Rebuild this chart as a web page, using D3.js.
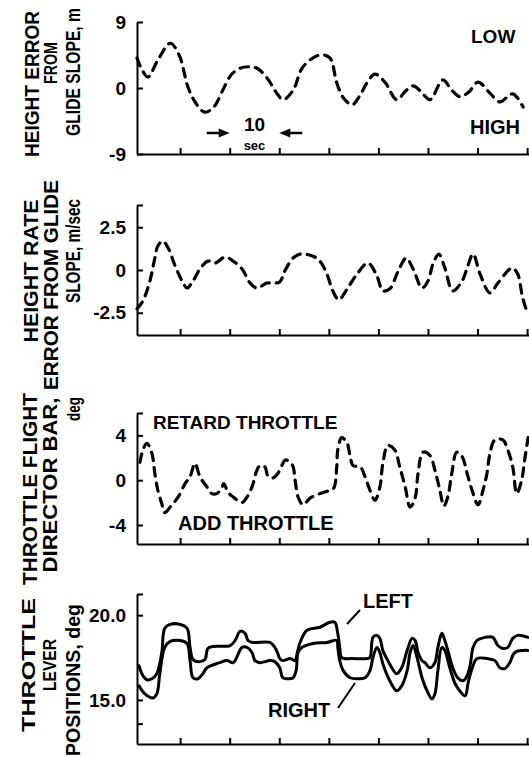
<!DOCTYPE html>
<html>
<head>
<meta charset="utf-8">
<script src="https://cdn.jsdelivr.net/npm/d3@7"></script>
<style>
  html, body { margin: 0; padding: 0; background: #fff; }
  svg { display: block; }
  text { font-family: "Liberation Sans", Arial, Helvetica, sans-serif; font-weight: bold; fill: #000; }
</style>
</head>
<body>
<svg id="chart" width="529" height="757"></svg>
<script>
// ---- time axis (seconds) ----
const tickSeconds = [10, 20, 30, 40, 50, 60, 70, 80];

// ---- height error from glide slope, m ----
const heightErrTicks = [9, 0, -9];
const heightErrTickLabels = ["9", "0", "-9"];
const heightErrT = [1.3, 2.3, 3.5, 5.5, 8.0, 9.8, 11.6, 13.3, 15.0, 16.8, 18.6, 20.3, 22.1, 23.8, 25.5, 27.5, 29.5, 30.8, 32.8, 34.8, 38.2, 40.2, 41.6, 43.0, 44.7, 46.2, 47.7, 49.3, 51.3, 53.7, 55.5, 57.0, 58.6, 60.4, 63.0, 64.8, 66.5, 68.3, 70.1, 72.5, 74.5, 77.1, 79.2];
const heightErrV = [4.1, 2.5, 1.5, 3.8, 6.1, 4.5, 0.1, -2.2, -3.3, -2.6, -0.3, 1.8, 2.7, 2.9, 2.7, 1.4, -0.7, -1.6, -0.3, 2.9, 4.5, 4.1, 0.7, -1.4, -2.3, -1.1, 0.7, 1.9, 0.8, -1.6, -0.4, 0.3, -0.5, -1.6, 1.1, -0.3, -1.2, -0.5, 0.8, -0.7, -1.9, -0.8, -2.6];

// ---- height rate error from glide slope, m/sec ----
const rateTicks = [3.8, 2.5, 0, -2.5];
const rateTickLabels = ["", "2.5", "0", "-2.5"];
const rateT = [1.3, 2.5, 3.9, 4.9, 5.5, 6.5, 7.6, 9.0, 10.4, 11.4, 12.6, 14.0, 15.6, 17.1, 19.1, 20.7, 22.5, 24.1, 25.5, 27.5, 28.7, 30.1, 31.1, 32.8, 34.2, 36.8, 38.2, 39.6, 40.8, 42.0, 43.7, 45.7, 47.9, 49.7, 50.9, 52.3, 54.0, 55.6, 57.0, 58.8, 60.0, 61.0, 62.2, 63.4, 65.0, 66.9, 67.9, 69.1, 70.5, 72.5, 74.1, 76.5, 77.1, 78.1, 79.1, 79.9];
const rateV = [-2.27, -1.8, -0.64, 0.7, 1.4, 1.69, 1.28, 0.23, -0.64, -1.05, -0.64, 0.06, 0.52, 0.41, 0.76, 0.52, 0.06, -0.76, -1.05, -0.76, -0.76, -0.7, -0.06, 0.7, 0.93, 0.81, 0.52, -0.23, -1.22, -1.74, -1.1, -0.23, 0.41, -0.35, -1.22, -1.1, -0.06, 0.7, 0.06, -1.05, -0.64, 0.35, 0.93, 0.12, -1.22, -0.64, 0.12, 0.93, -0.23, -1.34, -0.76, 0.06, 0.12, -0.23, -1.63, -2.38];

// ---- throttle flight director bar, deg ----
const directorTicks = [6.0, 4, 0, -4];
const directorTickLabels = ["", "4", "0", "-4"];
const directorT = [1.9, 2.5, 3.3, 4.3, 4.9, 5.5, 6.3, 6.9, 8.0, 9.6, 11.0, 12.0, 13.0, 14.0, 15.4, 16.4, 17.4, 18.4, 18.8, 19.7, 20.7, 22.5, 23.5, 24.5, 25.5, 26.1, 27.1, 27.7, 28.7, 29.7, 30.5, 31.2, 32.2, 32.8, 33.2, 33.8, 34.8, 36.2, 38.2, 40.2, 41.0, 41.6, 41.8, 42.6, 43.7, 44.3, 44.9, 46.3, 47.3, 48.3, 49.3, 50.3, 50.9, 51.9, 53.3, 54.3, 55.4, 56.4, 57.4, 58.0, 59.0, 60.4, 61.4, 62.4, 63.2, 64.0, 64.8, 65.8, 66.9, 67.9, 68.9, 70.1, 71.1, 71.9, 72.5, 73.5, 75.1, 76.1, 77.1, 77.9, 78.9, 79.5, 80.2];
const directorV = [1.6, 2.7, 3.3, 2.4, 0.6, -0.9, -2.1, -2.9, -2.4, -1.5, -0.3, 0.3, 1.5, 0.3, -0.6, -1.2, -1.2, -0.7, -0.3, -1.1, -1.5, -2.0, -1.5, -0.6, 0.9, 1.3, 1.2, 0.4, 0.2, 0.6, 1.3, 1.8, 1.6, 1.2, 0.0, -1.5, -2.2, -1.6, -1.2, -0.9, -0.7, 1.2, 2.7, 3.8, 3.3, 2.1, 1.3, 1.2, 0.3, -0.9, -1.8, -0.6, 1.5, 3.1, 2.7, 1.2, -0.6, -2.4, -1.6, 0.6, 2.5, 2.2, 0.9, -0.9, -2.3, -1.5, 0.6, 2.5, 2.1, 0.6, -0.9, -2.2, -0.9, 0.6, 2.4, 3.6, 3.6, 2.7, 1.2, -1.2, 0.0, 1.8, 3.8];

// ---- throttle lever positions, deg ----
const leverTicks = [21.25, 20, 15, 13.6];
const leverTickLabels = ["", "20.0", "15.0", ""];
const leftT = [1.7, 2.5, 3.3, 4.3, 5.3, 6.3, 6.9, 8.0, 10.0, 11.4, 12.0, 12.6, 14.0, 15.0, 15.6, 16.6, 20.1, 21.1, 22.1, 23.1, 23.7, 24.7, 28.1, 29.1, 29.7, 30.1, 30.7, 32.2, 33.2, 33.6, 34.2, 35.6, 38.2, 40.2, 41.2, 41.8, 42.2, 42.6, 44.7, 47.7, 48.3, 48.9, 49.7, 50.3, 50.9, 51.7, 52.7, 53.7, 54.7, 55.8, 56.8, 57.4, 58.0, 58.8, 59.4, 60.4, 61.4, 62.0, 62.8, 63.4, 64.0, 65.0, 66.0, 67.1, 67.9, 68.5, 69.1, 69.9, 71.5, 73.1, 74.1, 75.1, 76.1, 77.1, 78.1, 80.2];
const leftV = [17.02, 16.43, 16.19, 16.25, 16.55, 17.80, 19.23, 19.46, 19.46, 19.23, 18.10, 17.38, 17.26, 17.38, 18.04, 18.15, 18.21, 18.51, 19.05, 18.93, 18.51, 18.39, 18.39, 18.10, 17.74, 17.44, 17.32, 17.44, 17.32, 17.74, 18.39, 19.11, 19.29, 19.58, 19.58, 18.93, 18.10, 17.50, 17.44, 17.44, 17.50, 18.69, 18.81, 18.63, 17.92, 17.44, 16.90, 16.55, 16.90, 17.92, 18.63, 18.51, 17.80, 17.32, 17.20, 16.90, 17.20, 18.10, 18.93, 18.51, 17.92, 16.90, 16.31, 16.13, 16.43, 17.02, 18.10, 18.51, 18.69, 18.69, 18.21, 18.04, 18.10, 18.63, 18.81, 18.69];
const rightT = [1.7, 2.9, 4.5, 5.3, 5.9, 6.9, 8.0, 10.0, 11.4, 12.0, 12.6, 13.6, 14.6, 15.4, 18.0, 19.5, 20.7, 22.5, 23.5, 24.5, 25.1, 26.1, 28.1, 29.1, 30.1, 30.7, 31.8, 32.8, 33.4, 33.8, 34.6, 36.8, 39.6, 41.6, 41.8, 42.2, 42.9, 44.3, 45.7, 47.3, 48.3, 48.9, 49.7, 50.3, 50.9, 52.3, 53.7, 54.7, 55.8, 56.4, 57.0, 57.8, 58.8, 59.8, 60.8, 61.4, 62.0, 62.8, 63.4, 64.4, 65.4, 66.4, 67.5, 68.1, 68.9, 69.9, 71.9, 73.5, 74.5, 75.5, 76.5, 77.5, 79.2, 80.2];
const rightV = [15.83, 15.36, 15.12, 15.36, 16.55, 18.10, 18.45, 18.51, 18.33, 17.32, 16.31, 16.25, 16.55, 16.90, 17.20, 17.32, 17.20, 18.10, 18.10, 17.80, 17.32, 17.20, 17.32, 17.26, 16.90, 16.31, 16.25, 16.31, 16.73, 17.80, 18.10, 18.33, 18.39, 18.51, 18.10, 17.32, 16.73, 16.31, 16.25, 16.31, 16.73, 17.50, 18.10, 17.80, 17.14, 16.13, 15.54, 15.83, 16.73, 17.80, 18.21, 17.50, 16.31, 15.54, 15.06, 15.36, 16.73, 18.10, 17.92, 16.90, 16.01, 15.54, 15.24, 16.01, 16.85, 17.44, 17.44, 17.32, 16.90, 16.85, 17.20, 17.80, 17.92, 17.92];

// ---- axis titles (rotated, read bottom to top) ----
const heightErrTitle = ["HEIGHT ERROR", "FROM", "GLIDE SLOPE, m"];
const rateTitle = ["HEIGHT RATE", "ERROR FROM GLIDE", "SLOPE, m/sec"];
const directorTitle = ["THROTTLE FLIGHT", "DIRECTOR BAR,", "deg"];
const leverTitle = ["THROTTLE", "LEVER", "POSITIONS, deg"];

// ---------------------------------------------------------------
const svg = d3.select("#chart");
const FONT = '"Liberation Sans", Arial, Helvetica, sans-serif';

const x = d3.scaleLinear().domain([1.3, 80.3]).range([137, 528.6]);

// title layout rows: [baseline x, centre y, font size, run length along the text]
const panels = [
  {
    y: d3.scaleLinear().domain([-9, 9]).range([154, 22]),
    ticks: heightErrTicks, tickLabels: heightErrTickLabels,
    series: [{ t: heightErrT, v: heightErrV, dashed: true }],
    title: heightErrTitle,
    titleLayout: [[39, 84, 20, 146], [57, 63, 19, 42], [80, 72, 20, 128]]
  },
  {
    y: d3.scaleLinear().domain([-3.8, 3.8]).range([335, 205]),
    ticks: rateTicks, tickLabels: rateTickLabels,
    series: [{ t: rateT, v: rateV, dashed: true }],
    title: rateTitle,
    titleLayout: [[38, 271, 20, 143], [58, 285, 20, 210], [80, 251, 21, 104]]
  },
  {
    y: d3.scaleLinear().domain([-5.7, 6.0]).range([544, 413]),
    ticks: directorTicks, tickLabels: directorTickLabels,
    series: [{ t: directorT, v: directorV, dashed: true }],
    title: directorTitle,
    titleLayout: [[37, 489, 20, 192], [57, 485, 20, 175], [80, 409, 19, 24]]
  },
  {
    y: d3.scaleLinear().domain([12.4, 21.25]).range([744, 594]),
    ticks: leverTicks, tickLabels: leverTickLabels,
    series: [{ t: leftT, v: leftV, dashed: false }, { t: rightT, v: rightV, dashed: false }],
    title: leverTitle,
    titleLayout: [[35, 665, 19, 134], [56, 665, 18, 52], [80, 680, 20, 152]]
  }
];

function styleAxis(sel) {
  sel.selectAll("path, line").attr("stroke", "#000").attr("stroke-width", 2);
  sel.selectAll("text")
    .attr("font-size", 19)
    .attr("font-family", FONT)
    .attr("font-weight", "bold")
    .attr("fill", "#000");
}

panels.forEach(p => {
  const g = svg.append("g");

  // left axis with inward ticks
  const ya = g.append("g")
    .attr("transform", `translate(${x.range()[0]},0)`)
    .call(d3.axisLeft(p.y)
      .tickValues(p.ticks)
      .tickFormat((d, i) => p.tickLabels[i])
      .tickSizeInner(-6).tickSizeOuter(0).tickPadding(11));
  styleAxis(ya);

  // time axis with upward ticks, unlabeled
  const xa = g.append("g")
    .attr("transform", `translate(0,${p.y.range()[0]})`)
    .call(d3.axisBottom(x)
      .tickValues(tickSeconds)
      .tickFormat("")
      .tickSizeInner(-6).tickSizeOuter(0));
  styleAxis(xa);

  // traces
  const line = d3.line()
    .x(d => x(d[0]))
    .y(d => p.y(d[1]))
    .curve(d3.curveCatmullRom.alpha(0.5));

  p.series.forEach(s => {
    g.append("path")
      .datum(d3.zip(s.t, s.v))
      .attr("d", line)
      .attr("fill", "none")
      .attr("stroke", "#000")
      .attr("stroke-width", s.dashed ? 3.2 : 3)
      .attr("stroke-linecap", "round")
      .attr("stroke-linejoin", "round")
      .attr("stroke-dasharray", s.dashed ? "8.5,7" : null);
  });

  // rotated axis title lines, stretched/condensed to their run length
  p.title.forEach((txt, i) => {
    const [bx, cy, fs, len] = p.titleLayout[i];
    const t = svg.append("text")
      .attr("text-anchor", "middle")
      .style("font-size", fs + "px")
      .text(txt);
    const w = t.node().getComputedTextLength() || len;
    t.attr("transform", `translate(${bx},${cy}) rotate(-90) scale(${len / w},1)`);
  });
});

// ---- annotations ----
function label(txt, px, py, fs, anchor) {
  svg.append("text")
    .attr("x", px).attr("y", py)
    .style("font-size", fs + "px")
    .attr("text-anchor", anchor || "start")
    .text(txt);
}

// panel 1
label("LOW", 471, 43, 19);
label("HIGH", 470, 134, 20);
label("10", x(25), 131, 19, "middle");
label("sec", x(25), 150, 13, "middle");

// 10-second span arrows pointing at the 20 s and 30 s ticks
const arrowY = 133;
function arrow(tipX, dir) {
  const tail = tipX - dir * 23;
  svg.append("line")
    .attr("x1", tail).attr("y1", arrowY)
    .attr("x2", tipX - dir * 8).attr("y2", arrowY)
    .attr("stroke", "#000").attr("stroke-width", 2.5);
  svg.append("path")
    .attr("d", `M${tipX},${arrowY} L${tipX - dir * 11},${arrowY - 4.5} L${tipX - dir * 11},${arrowY + 4.5} Z`)
    .attr("fill", "#000");
}
arrow(x(20), 1);
arrow(x(30), -1);

// panel 3
label("RETARD THROTTLE", 153, 429, 19);
label("ADD THROTTLE", 178, 530, 20);

// panel 4
label("LEFT", 363, 608, 20);
label("RIGHT", 268, 717, 20);
svg.append("line").attr("x1", 360).attr("y1", 610).attr("x2", 347).attr("y2", 624)
  .attr("stroke", "#000").attr("stroke-width", 2);
svg.append("line").attr("x1", 338).attr("y1", 708).attr("x2", 355).attr("y2", 683)
  .attr("stroke", "#000").attr("stroke-width", 2);
</script>
</body>
</html>
